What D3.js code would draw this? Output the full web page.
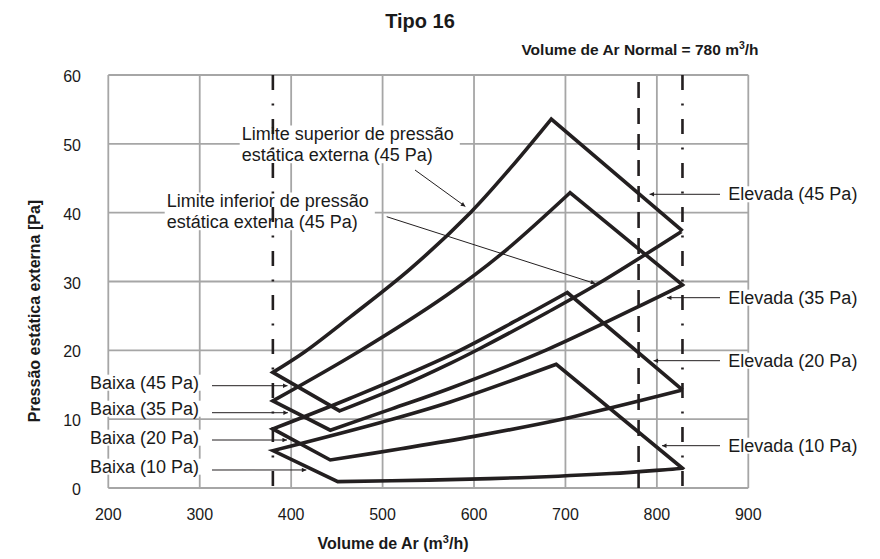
<!DOCTYPE html>
<html><head><meta charset="utf-8">
<script src="https://cdn.jsdelivr.net/npm/d3@7"></script>
<style>
body{margin:0;background:#fff}
svg{display:block}
text{font-family:"Liberation Sans",Arial,Helvetica,sans-serif;fill:#1a1a1a}
</style>
</head><body>
<svg id="c" width="880" height="559"></svg>
<script>
// ---------- data ----------
const xTicks = [200, 300, 400, 500, 600, 700, 800, 900];
const yTicks = [0, 10, 20, 30, 40, 50, 60];
const limitLines = [380, 828];      // dash-dot limits (m3/h)
const normalVolume = [780];         // dashed line (m3/h)
// upper curves: left point -> peak
const upper45 = [[380,16.8],[415,19.8],[465,24.9],[530,31.8],[596,40],[640,46.5],[684.5,53.6]];
const upper35 = [[380,12.65],[475,19.9],[570,28],[630,34],[705,42.9]];
const upper20 = [[380,8.58],[464,13],[574,19.3],[650,24.6],[702,28.4]];
const upper10 = [[380,5.43],[500,9.6],[574,12.5],[690,17.98]];
// lower curves: lower vertex -> right point
const lower45 = [[453,11.2],[520,14.8],[574,18.1],[607,20.3],[680,25.5],[736,29.7],[828,37.35]];
const lower35 = [[442.8,8.4],[510,11.5],[574,14.5],[680,20.1],[828,29.5]];
const lower20 = [[442.8,4.07],[520,5.7],[600,7.5],[700,10.1],[828,14.24]];
const lower10 = [[451,0.92],[550,1.15],[650,1.5],[750,2.1],[828,2.86]];
const lowLabels  = ["Baixa (45 Pa)","Baixa (35 Pa)","Baixa (20 Pa)","Baixa (10 Pa)"];
const highLabels = ["Elevada (45 Pa)","Elevada (35 Pa)","Elevada (20 Pa)","Elevada (10 Pa)"];
// arrow tips (data coords) for the labels
const lowTips  = [[396,14.86],[396.4,10.94],[395.4,6.97],[416.6,2.62]];
const highTips = [[792,42.67],[811,27.65],[796.4,18.5],[805.6,6.15]];

// ---------- layout ----------
const svg = d3.select("#c");
const x = d3.scaleLinear().domain([200, 900]).range([108.3, 748.3]);
const y = d3.scaleLinear().domain([0, 60]).range([488, 75]);
const gridCol = "#a6a6a6", ink = "#231f20";

// grid
const g = svg.append("g");
g.selectAll(".gx").data(xTicks).join("line")
  .attr("x1", d => x(d)).attr("x2", d => x(d)).attr("y1", y(0)).attr("y2", y(60))
  .attr("stroke", gridCol).attr("stroke-width", 1.8);
g.selectAll(".gy").data(yTicks).join("line")
  .attr("x1", x(200)).attr("x2", x(900)).attr("y1", d => y(d)).attr("y2", d => y(d))
  .attr("stroke", gridCol).attr("stroke-width", 1.8);

// tick labels
svg.append("g").selectAll("text").data(xTicks).join("text")
  .attr("x", d => x(d)).attr("y", 519.5).attr("text-anchor", "middle")
  .attr("font-size", 16).text(d => d);
svg.append("g").selectAll("text").data(yTicks).join("text")
  .attr("x", 81).attr("y", d => y(d) + 7).attr("text-anchor", "end")
  .attr("font-size", 16).text(d => d);

// title etc.
svg.append("text").attr("x", 420).attr("y", 27.7).attr("text-anchor", "middle")
  .attr("font-size", 20).attr("font-weight", "bold").text("Tipo 16");
const sub = svg.append("text").attr("x", 640).attr("y", 55).attr("text-anchor", "middle")
  .attr("font-size", 15.5).attr("font-weight", "bold");
sub.append("tspan").text("Volume de Ar Normal = 780 m");
sub.append("tspan").attr("font-size", 10.5).attr("dy", -6).text("3");
sub.append("tspan").attr("dy", 6).text("/h");
const xl = svg.append("text").attr("x", 393).attr("y", 549).attr("text-anchor", "middle")
  .attr("font-size", 16).attr("font-weight", "bold");
xl.append("tspan").text("Volume de Ar (m");
xl.append("tspan").attr("font-size", 11).attr("dy", -6).text("3");
xl.append("tspan").attr("dy", 6).text("/h)");
svg.append("text").attr("transform", "translate(40,311) rotate(-90)")
  .attr("text-anchor", "middle").attr("font-size", 16).attr("font-weight", "bold")
  .text("Pressão estática externa [Pa]");

// annotation text blocks (with white boxes)
const boxLayer = svg.append("g");
const lineLayer = svg.append("g");
const shapeLayer = svg.append("g");
const arrowLayer = svg.append("g");
const textLayer = svg.append("g");

function label(lines, x0, y0, lh) {
  const t = textLayer.append("text").attr("font-size", 18);
  lines.forEach((s, i) => t.append("tspan").attr("x", x0).attr("y", y0 + i * lh).text(s));
  const b = t.node().getBBox();
  boxLayer.append("rect").attr("x", b.x - 2).attr("y", b.y + 2).attr("width", b.width + 8)
    .attr("height", b.height - 4).attr("fill", "#fff");
}
label(["Limite superior de pressão", "estática externa (45 Pa)"], 241.7, 139.5, 21.7);
label(["Limite inferior de pressão", "estática externa (45 Pa)"], 166.7, 206.5, 21.7);
const lowY = [382.7, 408.7, 437.7, 466.7];
lowLabels.forEach((s, i) => label([s], 90, lowY[i] + 6, 0));
const highY = [194.3, 297.7, 360.7, 445.7];
highLabels.forEach((s, i) => label([s], 728.3, highY[i] + 6, 0));

// reference vertical lines
lineLayer.selectAll(".dd").data(limitLines).join("line")
  .attr("x1", d => x(d)).attr("x2", d => x(d)).attr("y1", y(60)).attr("y2", y(0))
  .attr("stroke", ink).attr("stroke-width", 2.6).attr("stroke-dasharray", "15,13.5,2,13.5");
lineLayer.selectAll(".dn").data(normalVolume).join("line")
  .attr("x1", d => x(d)).attr("x2", d => x(d)).attr("y1", y(60)).attr("y2", y(0))
  .attr("stroke", ink).attr("stroke-width", 2.6).attr("stroke-dasharray", "16,10")
  .attr("stroke-dashoffset", 19);

// operating-range shapes
const line = d3.line().x(d => x(d[0])).y(d => y(d[1])).curve(d3.curveCatmullRom.alpha(0.5));
const shapes = [[upper45, lower45], [upper35, lower35], [upper20, lower20], [upper10, lower10]];
shapes.forEach(([up, lo]) => {
  const R = lo[lo.length - 1];
  const back = line(lo.slice().reverse()).replace(/^M[^A-Za-z]*/, "");
  const d = line(up) + "L" + x(R[0]) + "," + y(R[1]) + back + "Z";
  shapeLayer.append("path").attr("d", d).attr("fill", "none").attr("stroke", ink)
    .attr("stroke-width", 3.6).attr("stroke-linejoin", "miter");
});

// arrows
const defs = svg.append("defs");
defs.append("marker").attr("id", "ah").attr("viewBox", "0 0 10 10").attr("refX", 10).attr("refY", 5)
  .attr("markerWidth", 8).attr("markerHeight", 4.5).attr("markerUnits", "userSpaceOnUse")
  .attr("orient", "auto").append("path").attr("d", "M0,0L10,5L0,10Z").attr("fill", ink);
function arrow(x1, y1, x2, y2) {
  arrowLayer.append("line").attr("x1", x1).attr("y1", y1).attr("x2", x2).attr("y2", y2)
    .attr("stroke", ink).attr("stroke-width", 1).attr("marker-end", "url(#ah)");
}
const lowArrowY = [385.7, 412.7, 440, 470];
lowTips.forEach((t, i) => arrow(212, lowArrowY[i], x(t[0]), y(t[1])));
highTips.forEach((t, i) => arrow(720, highY[i], x(t[0]), y(t[1])));
arrow(415, 170, x(590.5), y(40.9));
arrow(386.7, 216.7, x(732.6), y(29.7));
</script>
</body></html>
